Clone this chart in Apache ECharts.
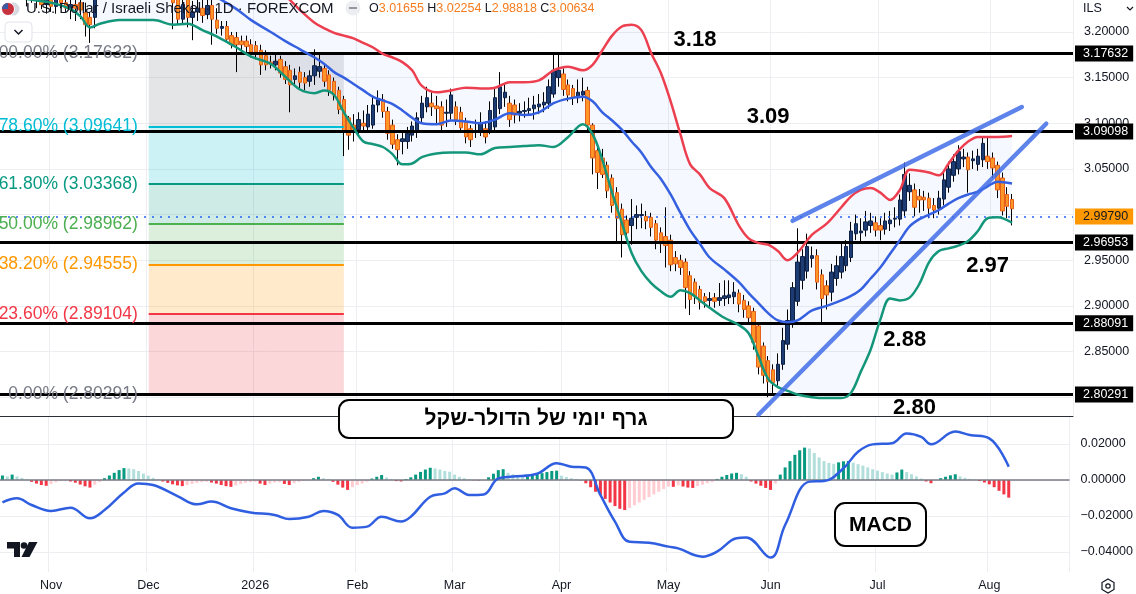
<!DOCTYPE html>
<html style="height: 100%">
<head>
<meta charset="utf-8">
<style>
  body { margin: 0; background: #fff; }
  #container { width: 1136px; height: 594px; }
</style>
</head>
<body>
<div id="container"></div>
<script src="https://cdn.jsdelivr.net/npm/echarts@6/dist/echarts.min.js"></script>
<script>
var FONT = 'Liberation Sans, Arial, sans-serif';

// daily candles, [open, high, low, close], from 20 Oct 2025 to 7 Aug 2026
var candles = [
  [3.262,3.270,3.248,3.252],[3.252,3.262,3.240,3.258],[3.258,3.268,3.245,3.250],[3.250,3.262,3.238,3.255],[3.255,3.260,3.236,3.240],
  [3.240,3.250,3.228,3.246],[3.246,3.252,3.232,3.236],[3.236,3.248,3.226,3.242],[3.242,3.246,3.225,3.230],[3.230,3.240,3.220,3.236],
  [3.236,3.242,3.222,3.228],[3.228,3.240,3.220,3.237],[3.237,3.244,3.226,3.232],[3.232,3.240,3.222,3.226],[3.226,3.236,3.214,3.230],
  [3.230,3.236,3.212,3.226],[3.232,3.240,3.214,3.224],[3.221,3.232,3.195,3.208],[3.216,3.222,3.188,3.208],[3.216,3.250,3.204,3.244],
  [3.244,3.258,3.236,3.252],[3.252,3.266,3.245,3.262],[3.262,3.274,3.254,3.268],[3.268,3.280,3.258,3.275],[3.275,3.284,3.262,3.270],
  [3.270,3.286,3.264,3.281],[3.281,3.290,3.270,3.285],[3.285,3.292,3.272,3.280],[3.280,3.288,3.266,3.270],[3.270,3.282,3.262,3.276],
  [3.276,3.284,3.260,3.266],[3.266,3.276,3.252,3.258],[3.258,3.270,3.248,3.262],[3.262,3.266,3.244,3.250],[3.250,3.262,3.240,3.256],
  [3.256,3.262,3.203,3.232],[3.236,3.242,3.208,3.214],[3.214,3.238,3.208,3.230],[3.238,3.244,3.205,3.216],[3.216,3.234,3.191,3.222],
  [3.222,3.236,3.212,3.226],[3.226,3.238,3.210,3.218],[3.219,3.240,3.214,3.229],[3.229,3.236,3.186,3.214],[3.213,3.226,3.198,3.204],
  [3.204,3.212,3.196,3.206],[3.206,3.212,3.188,3.192],[3.196,3.200,3.182,3.186],[3.194,3.200,3.156,3.186],[3.190,3.196,3.178,3.186],
  [3.190,3.196,3.176,3.184],[3.186,3.192,3.172,3.178],[3.185,3.190,3.170,3.178],[3.180,3.186,3.153,3.164],[3.174,3.180,3.158,3.164],
  [3.167,3.174,3.160,3.165],[3.164,3.176,3.158,3.168],[3.170,3.174,3.150,3.155],[3.162,3.168,3.143,3.148],[3.158,3.164,3.112,3.142],
  [3.148,3.160,3.140,3.152],[3.156,3.162,3.138,3.145],[3.150,3.156,3.136,3.144],[3.146,3.158,3.140,3.152],[3.152,3.181,3.142,3.163],
  [3.157,3.176,3.150,3.162],[3.160,3.166,3.140,3.146],[3.153,3.158,3.130,3.136],[3.146,3.150,3.125,3.131],[3.136,3.140,3.110,3.115],
  [3.126,3.130,3.064,3.092],[3.106,3.108,3.071,3.087],[3.098,3.110,3.080,3.091],[3.093,3.112,3.085,3.104],[3.100,3.114,3.090,3.097],
  [3.096,3.120,3.090,3.110],[3.098,3.130,3.094,3.120],[3.120,3.136,3.112,3.126],[3.126,3.132,3.106,3.113],[3.113,3.118,3.082,3.089],
  [3.098,3.104,3.072,3.077],[3.082,3.088,3.054,3.071],[3.080,3.090,3.066,3.083],[3.080,3.096,3.072,3.089],[3.087,3.102,3.080,3.097],
  [3.090,3.112,3.084,3.106],[3.106,3.130,3.100,3.122],[3.118,3.140,3.112,3.128],[3.122,3.134,3.108,3.118],[3.119,3.130,3.098,3.116],
  [3.118,3.124,3.091,3.098],[3.111,3.126,3.096,3.112],[3.111,3.138,3.104,3.131],[3.118,3.124,3.098,3.104],[3.112,3.118,3.090,3.095],
  [3.101,3.106,3.078,3.085],[3.094,3.098,3.074,3.082],[3.090,3.104,3.084,3.092],[3.090,3.112,3.086,3.100],[3.094,3.102,3.078,3.085],
  [3.093,3.124,3.088,3.114],[3.096,3.138,3.092,3.128],[3.116,3.156,3.110,3.140],[3.128,3.144,3.118,3.134],[3.122,3.130,3.096,3.104],
  [3.120,3.126,3.100,3.109],[3.111,3.122,3.102,3.113],[3.113,3.124,3.106,3.114],[3.114,3.128,3.108,3.116],[3.116,3.130,3.104,3.120],
  [3.118,3.132,3.110,3.121],[3.120,3.134,3.112,3.123],[3.122,3.148,3.116,3.140],[3.132,3.175,3.128,3.158],[3.150,3.176,3.140,3.158],
  [3.154,3.160,3.130,3.137],[3.142,3.148,3.124,3.131],[3.138,3.142,3.120,3.128],[3.128,3.148,3.122,3.134],[3.131,3.150,3.124,3.135],
  [3.136,3.140,3.092,3.098],[3.098,3.100,3.044,3.062],[3.070,3.074,3.028,3.046],[3.062,3.072,3.040,3.044],[3.054,3.058,3.018,3.026],
  [3.040,3.044,3.002,3.010],[3.024,3.030,2.968,2.996],[3.006,3.012,2.953,2.978],[2.994,2.999,2.972,2.980],[2.988,3.017,2.967,2.996],
  [2.997,3.010,2.984,3.000],[2.999,3.012,2.985,3.000],[2.998,3.004,2.984,2.993],[2.997,3.002,2.976,2.986],[2.990,2.994,2.962,2.972],
  [2.980,2.986,2.958,2.968],[2.976,3.008,2.942,2.966],[2.972,2.978,2.938,2.945],[2.953,2.960,2.938,2.946],[2.950,2.956,2.934,2.942],
  [2.948,2.952,2.897,2.920],[2.933,2.938,2.890,2.907],[2.926,2.930,2.902,2.910],[2.918,2.922,2.896,2.904],[2.910,2.914,2.898,2.905],
  [2.906,2.915,2.898,2.908],[2.909,2.914,2.898,2.905],[2.906,2.925,2.900,2.909],[2.908,2.928,2.900,2.911],[2.909,2.928,2.902,2.912],
  [2.910,2.926,2.902,2.915],[2.914,2.918,2.893,2.902],[2.906,2.912,2.887,2.896],[2.900,2.905,2.880,2.887],[2.894,2.898,2.852,2.860],
  [2.878,2.882,2.825,2.833],[2.856,2.860,2.815,2.824],[2.840,2.845,2.800,2.817],[2.830,2.836,2.802,2.816],[2.818,2.848,2.810,2.836],
  [2.836,2.876,2.830,2.862],[2.858,2.896,2.852,2.884],[2.880,2.926,2.876,2.920],[2.905,2.985,2.900,2.948],[2.928,2.962,2.918,2.954],
  [2.938,2.979,2.930,2.965],[2.952,2.965,2.942,2.955],[2.955,2.962,2.918,2.926],[2.934,2.940,2.880,2.908],[2.922,2.928,2.896,2.912],
  [2.915,2.946,2.905,2.937],[2.930,2.955,2.922,2.944],[2.937,2.968,2.930,2.954],[2.944,2.972,2.938,2.965],[2.953,2.992,2.948,2.982],
  [2.979,3.000,2.972,2.990],[2.980,2.996,2.968,2.982],[2.983,3.004,2.976,2.992],[2.988,3.002,2.980,2.993],[2.991,2.998,2.976,2.983],
  [2.988,2.996,2.972,2.983],[2.984,3.002,2.978,2.993],[2.990,3.004,2.982,2.994],[2.995,3.008,2.986,2.996],[2.995,3.022,2.988,3.016],
  [3.004,3.057,2.998,3.044],[3.025,3.045,3.015,3.032],[3.027,3.034,2.998,3.008],[3.020,3.028,3.002,3.016],[3.019,3.026,3.004,3.016],
  [3.018,3.024,2.996,3.007],[3.010,3.018,2.996,3.005],[3.007,3.026,3.000,3.018],[3.017,3.046,3.010,3.038],[3.030,3.058,3.024,3.050],
  [3.043,3.066,3.036,3.058],[3.050,3.076,3.044,3.069],[3.061,3.072,3.052,3.063],[3.063,3.068,3.024,3.049],[3.059,3.070,3.050,3.061],
  [3.055,3.072,3.048,3.064],[3.060,3.085,3.052,3.078],[3.064,3.086,3.050,3.058],[3.062,3.068,3.040,3.051],[3.054,3.058,3.018,3.027],
  [3.040,3.046,2.999,3.004],[3.022,3.030,2.996,3.009],[3.01655,3.02254,2.98818,3.00634]
];

// Bollinger bands at these day indices
var bandIdx = [0,5,10,14,16,18,20,24,28,31,35,38,41,44,48,51,55,58,61,64,66,68,70,72,74,76,78,80,82,84,86,89,92,95,98,101,104,107,110,113,116,119,121,123,125,127,129,131,133,135,137,139,141,143,145,148,151,153,155,157,159,161,163,166,169,172,174,176,178,180,182,184,186,188,190,192,194,196,198,200,202,204,207];
var bbUpper = [3.300,3.295,3.290,3.285,3.282,3.280,3.282,3.290,3.300,3.305,3.305,3.300,3.295,3.290,3.280,3.270,3.255,3.240,3.224,3.210,3.204,3.199,3.196,3.193,3.188,3.183,3.176,3.172,3.167,3.158,3.141,3.134,3.136,3.139,3.138,3.139,3.145,3.145,3.147,3.158,3.162,3.158,3.164,3.180,3.196,3.206,3.208,3.202,3.177,3.155,3.124,3.088,3.055,3.044,3.029,3.018,2.988,2.974,2.969,2.967,2.960,2.950,2.958,2.978,2.990,3.008,3.020,3.027,3.029,3.024,3.016,3.027,3.049,3.048,3.046,3.043,3.056,3.070,3.080,3.085,3.085,3.085,3.086];
var bbMid = [3.262,3.255,3.248,3.244,3.242,3.240,3.240,3.242,3.250,3.258,3.258,3.255,3.248,3.238,3.225,3.213,3.200,3.190,3.181,3.172,3.165,3.156,3.150,3.143,3.136,3.129,3.125,3.121,3.114,3.106,3.100,3.099,3.103,3.102,3.100,3.104,3.111,3.109,3.112,3.122,3.127,3.129,3.124,3.112,3.103,3.093,3.080,3.068,3.052,3.039,3.022,3.002,2.983,2.968,2.953,2.940,2.926,2.914,2.903,2.892,2.884,2.882,2.884,2.895,2.900,2.906,2.911,2.918,2.930,2.942,2.957,2.972,2.987,2.995,3.000,3.005,3.012,3.018,3.022,3.025,3.031,3.036,3.034];
var bbLower = [3.240,3.236,3.232,3.225,3.217,3.205,3.209,3.213,3.213,3.213,3.208,3.209,3.202,3.195,3.183,3.173,3.165,3.151,3.137,3.133,3.136,3.131,3.112,3.095,3.080,3.077,3.074,3.066,3.055,3.056,3.063,3.067,3.068,3.068,3.066,3.073,3.074,3.075,3.076,3.074,3.085,3.099,3.088,3.060,3.024,2.991,2.958,2.938,2.925,2.916,2.910,2.917,2.914,2.906,2.898,2.887,2.879,2.870,2.845,2.820,2.811,2.807,2.803,2.800,2.799,2.799,2.805,2.828,2.852,2.885,2.908,2.906,2.909,2.924,2.948,2.960,2.963,2.966,2.971,2.982,2.996,2.997,2.991];

// MACD line samples and daily histogram (histogram in thousandths)
var macdIdx = [0,3,6,10,14,18,21,25,28,31,36,40,43,47,51,56,59,63,66,69,72,75,78,82,84,88,91,93,96,99,102,105,110,114,117,120,123,126,129,133,137,139,144,147,151,153,158,161,166,169,173,176,179,183,186,189,191,196,199,203,207];
var macdVals = [-0.0124,-0.0102,-0.0139,-0.0172,-0.0154,-0.0213,-0.0167,-0.0069,-0.0019,-0.0028,-0.0089,-0.0135,-0.0120,-0.0157,-0.0180,-0.0194,-0.0217,-0.0204,-0.0172,-0.0194,-0.0265,-0.0259,-0.0204,-0.0231,-0.0204,-0.0093,-0.0074,-0.0046,-0.0083,-0.0080,0.0009,0.0019,0.0035,0.0093,0.0074,0.0069,-0.0083,-0.0231,-0.0343,-0.0348,-0.0370,-0.0380,-0.0426,-0.0398,-0.0324,-0.0320,-0.0431,-0.0250,-0.0009,-0.0006,0.0065,0.0157,0.0198,0.0204,0.0259,0.0240,0.0198,0.0269,0.0250,0.0231,0.0074];
var macdHist = [
  2.5,2.0,3.0,2.0,1.2,0.4,-1.0,-2.0,-2.8,-3.2,-2.2,-1.2,-0.6,-0.4,-0.8,-1.5,-2.5,-3.5,-4.2,-2.6,
  -1.2,1.0,2.5,4.0,5.5,6.6,6.4,6.0,5.0,3.6,2.4,1.2,0.4,-0.8,-1.6,-2.4,-3.0,-3.4,-2.8,-2.2,
  -1.6,-1.2,-1.0,-1.4,-2.0,-2.8,-3.4,-3.8,-3.0,-2.2,-1.6,-1.2,-1.0,-2.0,-2.8,-2.0,-1.4,-1.2,-2.2,-2.8,
  -1.8,-1.0,-0.6,-0.2,1.0,1.8,1.0,0.4,-1.0,-2.6,-4.2,-5.5,-4.0,-2.8,-2.0,-1.0,0.8,1.8,2.8,1.4,
  0.4,-0.6,-0.8,0.5,1.5,3.0,4.5,5.8,6.8,6.4,5.8,5.0,4.6,3.0,1.8,1.0,0.3,-0.2,-0.3,-0.2,
  1.5,3.5,5.5,6.0,4.0,3.2,2.5,1.8,2.0,2.6,3.2,3.8,4.4,5.0,5.2,2.4,1.6,1.0,0.6,-0.2,
  -1.8,-4.0,-6.5,-8.5,-10.5,-12.5,-14.5,-16.0,-16.7,-15.5,-14.0,-12.5,-11.0,-9.5,-8.0,-6.5,-5.0,-3.6,-3.8,-3.0,
  -3.6,-4.2,-4.4,-3.4,-2.6,-1.8,-1.2,0.6,1.8,2.8,3.6,4.0,3.2,1.8,-0.8,-2.0,-3.2,-4.4,-5.5,-2.0,
  3.0,7.0,10.5,14.0,16.5,18.0,17.5,15.0,12.5,10.5,9.5,9.0,9.8,10.4,10.6,9.6,8.8,8.0,7.0,6.0,
  5.2,4.4,3.6,3.0,4.2,5.8,4.4,3.2,2.0,0.8,-0.8,-1.8,-0.4,1.0,1.8,2.6,3.2,2.0,1.2,0.6,
  0.2,-0.6,-1.4,-2.4,-4.0,-6.0,-8.0,-9.8
];

// Fibonacci retracement drawn from Dec 1 to Jan 28
var fibPct = ['100.00%','78.60%','61.80%','50.00%','38.20%','23.60%','0.00%'];
var fibPrices = [3.17632,3.09641,3.03368,2.98962,2.94555,2.89104,2.80291];
var fibColors = ['#787b86','#00bcd4','#089981','#4caf50','#ff9800','#f23645','#787b86'];
var fibSpan = [30, 70];

var keyLevels = [3.17632, 3.09098, 2.96953, 2.88091, 2.80291];
var lastPrice = 2.99790;
var levelNotes = [['3.18',142,3.191],['3.09',157,3.107],['2.97',202,2.944],['2.88',185,2.8626],['2.80',187,2.788]];
var wedgeUpper = [[162, 2.9932], [209, 3.1177]];
var wedgeLower = [[155, 2.7808], [214, 3.0995]];

var priceTicks = [3.20,3.15,3.10,3.05,3.00,2.95,2.90,2.85,2.80];
var macdTicks = [0.02,0,-0.02,-0.04];
var monthNames = ['Jan','Feb','Mar','Apr','May','Jun','Jul','Aug','Sep','Oct','Nov','Dec'];

// trading days (weekdays, no Dec 25 / Jan 1), with empty room on the right
var dates = [];
for (var d = new Date(Date.UTC(2025, 9, 20)); dates.length < 220; d.setUTCDate(d.getUTCDate() + 1)) {
    var wd = d.getUTCDay();
    var s = d.toISOString().slice(0, 10);
    if (wd === 0 || wd === 6 || s.slice(5) === '12-25' || s.slice(5) === '01-01') continue;
    dates.push(s);
}
function monthStart(i) {
    return i > 0 && dates[i].slice(5, 7) !== dates[i - 1].slice(5, 7);
}
function monthLabel(v) {
    var m = +v.slice(5, 7);
    return m === 1 ? v.slice(0, 4) : monthNames[m - 1];
}

function pairs(idx, vals) {
    return idx.map(function (x, k) { return [x, vals[k]]; });
}

var bodyData = candles.map(function (c) {
    return [c[0], c[3], Math.min(c[0], c[3]), Math.max(c[0], c[3])];
});
var wickData = candles.map(function (c) { return [c[0], c[3], c[2], c[1]]; });

function histColor(i) {
    var v = macdHist[i], p = i > 0 ? macdHist[i - 1] : 0;
    if (v >= 0) return v >= p ? '#089981' : '#b2dfdb';
    return v < p ? '#f23645' : '#ffcdd2';
}

var dom = document.getElementById('container');
var myChart = echarts.init(dom, null, { renderer: 'canvas' });

var fibZones = [];
for (var k = 0; k < fibPrices.length - 1; k++) {
    fibZones.push([
        { coord: [fibSpan[0], fibPrices[k]], itemStyle: { color: fibColors[k], opacity: 0.2 } },
        { coord: [fibSpan[1], fibPrices[k + 1]] }
    ]);
}
var fibLines = fibPrices.map(function (p, k) {
    return [
        { coord: [fibSpan[0], p], lineStyle: { color: fibColors[k], width: 2, type: 'solid' } },
        { coord: [fibSpan[1], p] }
    ];
});
var fibLabels = fibPrices.map(function (p, k) {
    return {
        coord: [fibSpan[0], p],
        label: { formatter: fibPct[k] + ' (' + p.toFixed(5) + ')', color: fibColors[k] }
    };
});

var priceLabelStyle = {
    position: 'end', distance: 2, color: '#fff', backgroundColor: '#000',
    padding: [2, 5, 1, 8], fontSize: 12.5, fontFamily: FONT,
    formatter: function (p) { return (+p.value).toFixed(5); }
};

var option = {
    animation: false,
    backgroundColor: '#fff',
    grid: [
        { left: 0, right: 63, top: 0, height: 416 },
        { left: 0, right: 63, top: 417, height: 155 }
    ],
    xAxis: [
        {
            type: 'category', gridIndex: 0, data: dates, boundaryGap: true,
            axisLine: { show: true, lineStyle: { color: '#2a2e39', width: 1 } },
            axisTick: { show: false }, axisLabel: { show: false },
            splitLine: { show: true, interval: function (i) { return monthStart(i); }, lineStyle: { color: '#eceef2', width: 1 } }
        },
        {
            type: 'category', gridIndex: 1, data: dates, boundaryGap: true,
            axisLine: { show: false }, axisTick: { show: false },
            axisLabel: {
                interval: function (i) { return monthStart(i); },
                formatter: monthLabel, color: '#131722', fontSize: 12.5, fontFamily: FONT, margin: 7
            },
            splitLine: { show: true, interval: function (i) { return monthStart(i); }, lineStyle: { color: '#eceef2', width: 1 } }
        }
    ],
    yAxis: [
        {
            type: 'value', gridIndex: 0, position: 'right', min: 2.7794, max: 3.235,
            axisLine: { show: false },
            axisTick: { show: false, customValues: priceTicks },
            axisLabel: {
                customValues: priceTicks, color: '#131722', fontSize: 12.5, fontFamily: FONT,
                align: 'left', margin: 11,
                formatter: function (v) { return v.toFixed(5); }
            },
            splitLine: { show: true, lineStyle: { color: '#eceef2', width: 1 } }
        },
        {
            type: 'value', gridIndex: 1, position: 'right', min: -0.0511, max: 0.035,
            axisLine: { show: false },
            axisTick: { show: false, customValues: macdTicks },
            axisLabel: {
                customValues: macdTicks, color: '#131722', fontSize: 12.5, fontFamily: FONT,
                align: 'left', margin: 11,
                formatter: function (v) { return (v < 0 ? '\u2212' : '') + Math.abs(v).toFixed(5); }
            },
            splitLine: { show: true, lineStyle: { color: '#eceef2', width: 1 } }
        }
    ],
    series: [
        {   // fibonacci zones, level lines and labels
            name: 'fib', type: 'line', data: [], z: 1, silent: true,
            markArea: { silent: true, data: fibZones },
            markLine: { silent: true, symbol: 'none', label: { show: false }, data: fibLines },
            markPoint: {
                silent: true, symbol: 'circle', symbolSize: 0,
                label: { show: true, position: 'left', distance: 11, fontSize: 17.5, fontFamily: FONT },
                data: fibLabels
            }
        },
        {   // bollinger fill: lower band as base
            name: 'bbBase', type: 'line', stack: 'bb', z: 2, smooth: 0.35, symbol: 'none',
            lineStyle: { opacity: 0 }, data: pairs(bandIdx, bbLower)
        },
        {
            name: 'bbFill', type: 'line', stack: 'bb', z: 2, smooth: 0.35, symbol: 'none',
            lineStyle: { opacity: 0 }, areaStyle: { color: 'rgba(41,98,255,0.06)' },
            data: bandIdx.map(function (x, k) { return [x, bbUpper[k] - bbLower[k]]; })
        },
        {
            name: 'wicks', type: 'candlestick', z: 3, barWidth: 1, data: wickData,
            itemStyle: { color: '#000', color0: '#000', borderColor: '#000', borderColor0: '#000', borderWidth: 1 }
        },
        {
            name: 'bodies', type: 'candlestick', z: 4, barWidth: 4, data: bodyData,
            itemStyle: { color: '#1d3c74', color0: '#ff9526', borderColor: '#0e2247', borderColor0: '#e4601c', borderWidth: 1 }
        },
        {
            name: 'upper', type: 'line', z: 5, smooth: 0.35, symbol: 'none',
            lineStyle: { color: '#ec3f4f', width: 2.5 }, data: pairs(bandIdx, bbUpper)
        },
        {
            name: 'basis', type: 'line', z: 5, smooth: 0.35, symbol: 'none',
            lineStyle: { color: '#3560e0', width: 2.5 }, data: pairs(bandIdx, bbMid)
        },
        {
            name: 'lower', type: 'line', z: 5, smooth: 0.35, symbol: 'none',
            lineStyle: { color: '#14967a', width: 2.5 }, data: pairs(bandIdx, bbLower)
        },
        {   // key levels and last price
            name: 'levels', type: 'line', data: [], z: 6, silent: true,
            markLine: {
                silent: true, symbol: 'none', precision: 5,
                lineStyle: { color: '#000', width: 3, type: 'solid' },
                label: priceLabelStyle,
                data: keyLevels.map(function (v) { return { yAxis: v }; }).concat([{
                    yAxis: lastPrice,
                    lineStyle: { color: '#2962ff', width: 1.6, type: [2, 6] },
                    label: { backgroundColor: '#ff9800', color: '#131722' }
                }])
            },
            markPoint: {
                silent: true, symbol: 'circle', symbolSize: 0,
                label: { show: true, position: 'inside', color: '#000', fontSize: 22, fontWeight: 'bold', fontFamily: FONT },
                data: levelNotes.map(function (n) { return { coord: [n[1], n[2]], label: { formatter: n[0] } }; })
            }
        },
        {
            name: 'wedgeUp', type: 'line', z: 7, symbol: 'none', data: wedgeUpper,
            lineStyle: { color: 'rgba(66,110,232,0.85)', width: 4.5, cap: 'round' }
        },
        {
            name: 'wedgeDown', type: 'line', z: 7, symbol: 'none', data: wedgeLower,
            lineStyle: { color: 'rgba(66,110,232,0.85)', width: 4.5, cap: 'round' }
        },
        {
            name: 'hist', type: 'bar', xAxisIndex: 1, yAxisIndex: 1, barWidth: 3, z: 3,
            data: macdHist.map(function (v, i) {
                return { value: v / 1000, itemStyle: { color: histColor(i) } };
            }),
            markLine: {
                silent: true, symbol: 'none', label: { show: false },
                lineStyle: { color: '#787b86', width: 1.5, type: 'solid' },
                data: [{ yAxis: 0 }]
            }
        },
        {
            name: 'macd', type: 'line', xAxisIndex: 1, yAxisIndex: 1, z: 5, smooth: 0.4, symbol: 'none',
            lineStyle: { color: '#2f5fe0', width: 2.5 }, data: pairs(macdIdx, macdVals)
        }
    ],
    graphic: [
        // legend line
        { type: 'circle', shape: { cx: 13, cy: 9, r: 6.5 }, style: { fill: '#d6d9e0' }, z: 100 },
        { type: 'circle', shape: { cx: 8, cy: 9, r: 6.5 }, style: { fill: '#c8313e', stroke: '#fff', lineWidth: 1 }, z: 101 },
        { type: 'sector', shape: { cx: 8, cy: 9, r: 6, startAngle: Math.PI, endAngle: Math.PI * 1.5 }, style: { fill: '#3b5ba5' }, z: 102 },
        {
            type: 'text', x: 26, y: 9, z: 100,
            style: { text: 'U.S. Dollar / Israeli Shekel \u00b7 1D \u00b7 FOREXCOM', fill: '#131722', fontSize: 15, fontFamily: FONT, verticalAlign: 'middle' }
        },
        { type: 'circle', shape: { cx: 353, cy: 8, r: 7.5 }, style: { fill: '#eceef2' }, z: 100 },
        { type: 'line', shape: { x1: 349, y1: 8, x2: 357, y2: 8 }, style: { stroke: '#9598a1', lineWidth: 2 }, z: 101 },
        {
            type: 'text', x: 369, y: 9, z: 100,
            style: {
                text: '{k|O}{v|3.01655} {k|H}{v|3.02254} {k|L}{v|2.98818} {k|C}{v|3.00634}',
                verticalAlign: 'middle',
                rich: {
                    k: { fill: '#131722', fontSize: 12.5, fontFamily: FONT },
                    v: { fill: '#f57c1f', fontSize: 12.5, fontFamily: FONT }
                }
            }
        },
        { type: 'rect', shape: { x: 5, y: 22, width: 27, height: 20, r: 4 }, style: { fill: '#fff', stroke: '#e0e3eb', lineWidth: 1 }, z: 100 },
        { type: 'polyline', shape: { points: [[14.5, 30], [18.5, 34], [22.5, 30]] }, style: { stroke: '#131722', lineWidth: 1.5, fill: null }, z: 101 },
        { type: 'text', x: 1083, y: 9, z: 100, style: { text: 'ILS', fill: '#131722', fontSize: 12.5, fontFamily: FONT, verticalAlign: 'middle' } },
        { type: 'polyline', shape: { points: [[1127, 7], [1130, 10], [1133, 7]] }, style: { stroke: '#131722', lineWidth: 1.2, fill: null }, z: 101 },
        // caption boxes
        { type: 'rect', shape: { x: 339, y: 400, width: 394, height: 38, r: 10 }, style: { fill: '#fff', stroke: '#000', lineWidth: 2 }, z: 110 },
        {
            type: 'text', x: 536, y: 419.5, z: 111,
            style: { text: '\u05d2\u05e8\u05e3 \u05d9\u05d5\u05de\u05d9 \u05e9\u05dc \u05d4\u05d3\u05d5\u05dc\u05e8-\u05e9\u05e7\u05dc', fill: '#000', fontSize: 21, fontWeight: 'bold', fontFamily: 'Liberation Sans, DejaVu Sans, sans-serif', align: 'center', verticalAlign: 'middle' }
        },
        { type: 'rect', shape: { x: 835, y: 503, width: 91, height: 43, r: 10 }, style: { fill: '#fff', stroke: '#000', lineWidth: 2 }, z: 110 },
        {
            type: 'text', x: 880.5, y: 525, z: 111,
            style: { text: 'MACD', fill: '#000', fontSize: 21, fontWeight: 'bold', fontFamily: FONT, align: 'center', verticalAlign: 'middle' }
        },
        // tradingview mark and settings icon
        { type: 'polygon', shape: { points: [[7, 542], [20, 542], [20, 557], [14, 557], [14, 548.5], [7, 548.5]] }, style: { fill: '#131722' }, z: 100 },
        { type: 'circle', shape: { cx: 24, cy: 545.5, r: 3.3 }, style: { fill: '#131722' }, z: 100 },
        { type: 'polygon', shape: { points: [[29, 542], [37.5, 542], [29.5, 557], [21.5, 557]] }, style: { fill: '#131722' }, z: 100 },
        { type: 'polygon', shape: { points: [[1108, 579], [1114, 582.5], [1114, 589.5], [1108, 593], [1102, 589.5], [1102, 582.5]] }, style: { fill: null, stroke: '#131722', lineWidth: 1.2 }, z: 100 },
        { type: 'circle', shape: { cx: 1108, cy: 586, r: 2.2 }, style: { fill: null, stroke: '#131722', lineWidth: 1.2 }, z: 100 }
    ]
};

myChart.setOption(option);
</script>
</body>
</html>
